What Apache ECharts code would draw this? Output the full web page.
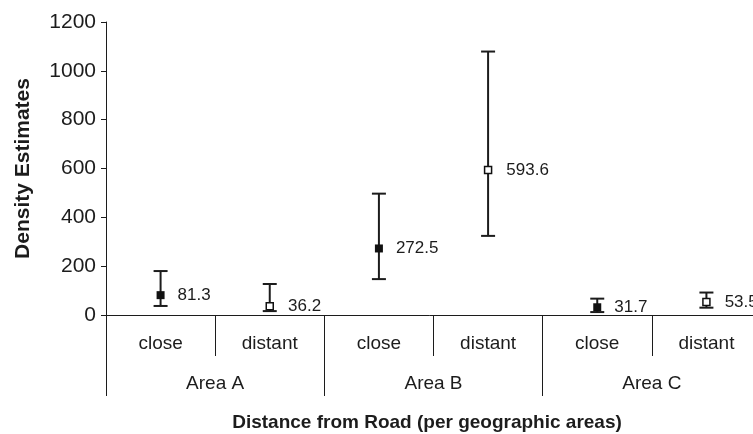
<!DOCTYPE html>
<html>
<head>
<meta charset="utf-8">
<script src="https://cdn.jsdelivr.net/npm/echarts@6/dist/echarts.min.js"></script>
<style>
  html, body { margin: 0; padding: 0; background: #fff; }
  #chart { width: 753px; height: 434px; }
</style>
</head>
<body>
<div id="chart"></div>
<script>
// data
const categories = ["close", "distant", "close", "distant", "close", "distant"];
const areas = ["Area A", "Area B", "Area C"];
const means = [81.3, 36.2, 272.5, 593.6, 31.7, 53.5];
const lower = [37, 16, 147, 324, 12, 30];
const upper = [180, 127, 497, 1079, 67, 92];
const yTicks = [0, 200, 400, 600, 800, 1000, 1200];

const ink = "#1c1c1c";
const font = "'Liberation Sans', Arial, Helvetica, sans-serif";

const closePts = [];
const distantPts = [];
means.forEach((v, i) => {
  (categories[i] === "close" ? closePts : distantPts).push([i, v]);
});
const bars = means.map((v, i) => [i, lower[i], upper[i]]);

const chart = echarts.init(document.getElementById("chart"));

chart.setOption({
  animation: false,
  textStyle: { fontFamily: font },
  grid: { left: 106, top: 22, right: -8, height: 293, outerBoundsMode: "none", containLabel: false },
  xAxis: [
    {
      type: "category",
      data: categories,
      axisLine: { show: true, lineStyle: { color: ink, width: 1 } },
      axisTick: { show: true, interval: 0, length: 41, lineStyle: { color: ink } },
      axisLabel: { interval: 0, margin: 19, fontSize: 19, color: ink, fontFamily: font }
    },
    {
      type: "category",
      data: areas,
      position: "bottom",
      axisLine: { show: false },
      axisTick: { show: true, interval: 0, length: 81, lineStyle: { color: ink } },
      axisLabel: { interval: 0, margin: 59, fontSize: 19, color: ink, fontFamily: font }
    }
  ],
  yAxis: {
    type: "value",
    min: yTicks[0],
    max: yTicks[yTicks.length - 1],
    interval: 200,
    name: "Density Estimates",
    nameLocation: "middle",
    nameGap: 72,
    nameTextStyle: { fontSize: 21, fontWeight: "bold", color: ink, fontFamily: font },
    axisLine: { show: true, lineStyle: { color: ink, width: 1 } },
    axisTick: { show: true, length: 5, lineStyle: { color: ink } },
    axisLabel: { margin: 10, fontSize: 21, color: ink, fontFamily: font, formatter: v => String(v) },
    splitLine: { show: false }
  },
  graphic: [
    {
      type: "text",
      x: 427,
      y: 423,
      style: {
        text: "Distance from Road (per geographic areas)",
        fill: ink,
        font: "bold 19px " + font,
        textAlign: "center",
        textVerticalAlign: "middle"
      }
    }
  ],
  series: [
    {
      type: "custom",
      xAxisIndex: 0,
      data: bars,
      z: 2,
      renderItem: function (params, api) {
        const lo = api.coord([api.value(0), api.value(1)]);
        const hi = api.coord([api.value(0), api.value(2)]);
        const half = 7;
        const style = { stroke: ink, lineWidth: 2 };
        return {
          type: "group",
          children: [
            { type: "line", shape: { x1: lo[0], y1: lo[1], x2: hi[0], y2: hi[1] }, style: style },
            { type: "line", shape: { x1: hi[0] - half, y1: hi[1], x2: hi[0] + half, y2: hi[1] }, style: style },
            { type: "line", shape: { x1: lo[0] - half, y1: lo[1], x2: lo[0] + half, y2: lo[1] }, style: style }
          ]
        };
      }
    },
    {
      type: "scatter",
      xAxisIndex: 0,
      data: closePts,
      symbol: "rect",
      symbolSize: 8,
      z: 3,
      itemStyle: { color: "#111", opacity: 1 },
      label: {
        show: true,
        position: "right",
        distance: 13,
        formatter: p => p.value[1].toFixed(1),
        fontSize: 17,
        color: ink,
        fontFamily: font
      }
    },
    {
      type: "scatter",
      xAxisIndex: 0,
      data: distantPts,
      symbol: "rect",
      symbolSize: 7,
      z: 3,
      itemStyle: { color: "#fff", borderColor: "#111", borderWidth: 1.5, opacity: 1 },
      label: {
        show: true,
        position: "right",
        distance: 14,
        formatter: p => p.value[1].toFixed(1),
        fontSize: 17,
        color: ink,
        fontFamily: font
      }
    }
  ]
});
</script>
</body>
</html>
